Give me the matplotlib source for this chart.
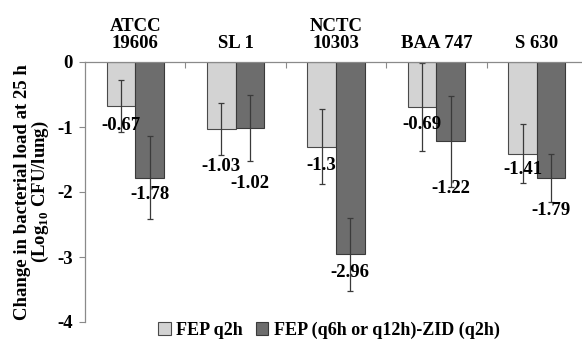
import numpy as np
import matplotlib
matplotlib.use('Agg')
from matplotlib import pyplot as plt

plt.rcParams['font.family'] = ['Liberation Serif', 'DejaVu Serif']
plt.rcParams['font.weight'] = 'bold'
plt.rcParams['axes.unicode_minus'] = False
plt.rcParams['mathtext.fontset'] = 'custom'
plt.rcParams['mathtext.rm'] = 'Liberation Serif:bold'
plt.rcParams['mathtext.bf'] = 'Liberation Serif:bold'

# data
strains = ['ATCC\n19606', 'SL 1', 'NCTC\n10303', 'BAA 747', 'S 630']
fep_q2h = [-0.67, -1.03, -1.3, -0.69, -1.41]
fep_q2h_err = [0.40, 0.40, 0.58, 0.68, 0.45]
fep_zid = [-1.78, -1.02, -2.96, -1.22, -1.79]
fep_zid_err = [0.64, 0.51, 0.56, 0.70, 0.37]
series_names = ['FEP q2h', 'FEP (q6h or q12h)-ZID (q2h)']

# label drops below bar end (pixels), hand placed like the original
drop_q2h = [20, 38, 19, 18, 16]
drop_zid = [17, 55, 18, 47, 32]

fig = plt.figure(figsize=(5.82, 3.41), dpi=100)
ax = fig.add_axes([85/582, 1-322/341, 497/582, 260/341])

x = np.arange(len(strains))
w = 0.285
ekw = dict(ecolor='#3a3a3a', elinewidth=0.9, capsize=2.5, capthick=0.9)
b1 = ax.bar(x - w/2, fep_q2h, w, yerr=fep_q2h_err, color='#d3d3d3',
            edgecolor='#4a4a4a', linewidth=0.8, error_kw=ekw, label=series_names[0])
b2 = ax.bar(x + w/2, fep_zid, w, yerr=fep_zid_err, color='#6d6d6d',
            edgecolor='#3a3a3a', linewidth=0.8, error_kw=ekw, label=series_names[1])

for bars, vals, drops in [(b1, fep_q2h, drop_q2h), (b2, fep_zid, drop_zid)]:
    for r, v, d in zip(bars, vals, drops):
        ax.annotate(str(v), (r.get_x() + r.get_width()/2, v),
                    xytext=(0, -d*0.72), textcoords='offset points',
                    ha='center', va='center', fontsize=13.5, fontweight='bold')

ax.set_xlim(-0.5, 4.45)
ax.set_ylim(-4, 0)
ax.set_yticks([0, -1, -2, -3, -4])
ax.set_yticklabels(['0', '-1', '-2', '-3', '-4'])

ax.xaxis.tick_top()
ax.set_xticks(np.arange(0.5, 4.5, 1))
ax.set_xticklabels([])
ax.set_xticks(x, minor=True)
ax.set_xticklabels(strains, minor=True, linespacing=1.05)
ax.tick_params(axis='x', which='major', direction='in', length=4, color='#8a8a8a')
ax.tick_params(axis='x', which='minor', length=0, pad=7, labelsize=13.5)
ax.tick_params(axis='y', direction='out', length=4, color='#8a8a8a', labelsize=13.5, pad=5)

for s in ['right', 'bottom']:
    ax.spines[s].set_visible(False)
for s in ['left', 'top']:
    ax.spines[s].set_color('#8a8a8a')
    ax.spines[s].set_linewidth(0.9)

ax.set_ylabel('Change in bacterial load at 25 h\n(Log$_{10}$ CFU/lung)',
              fontsize=13.5, fontweight='bold', linespacing=0.95)
ax.yaxis.set_label_coords(-0.068, 0.5)

fig.legend(handles=[b1, b2], loc='center', bbox_to_anchor=(0.565, 1-330/341),
           ncol=2, frameon=False, handlelength=0.7, handleheight=0.7,
           handletextpad=0.3, columnspacing=0.7, prop={'size': 13, 'weight': 'bold'})

plt.savefig('out.png')
